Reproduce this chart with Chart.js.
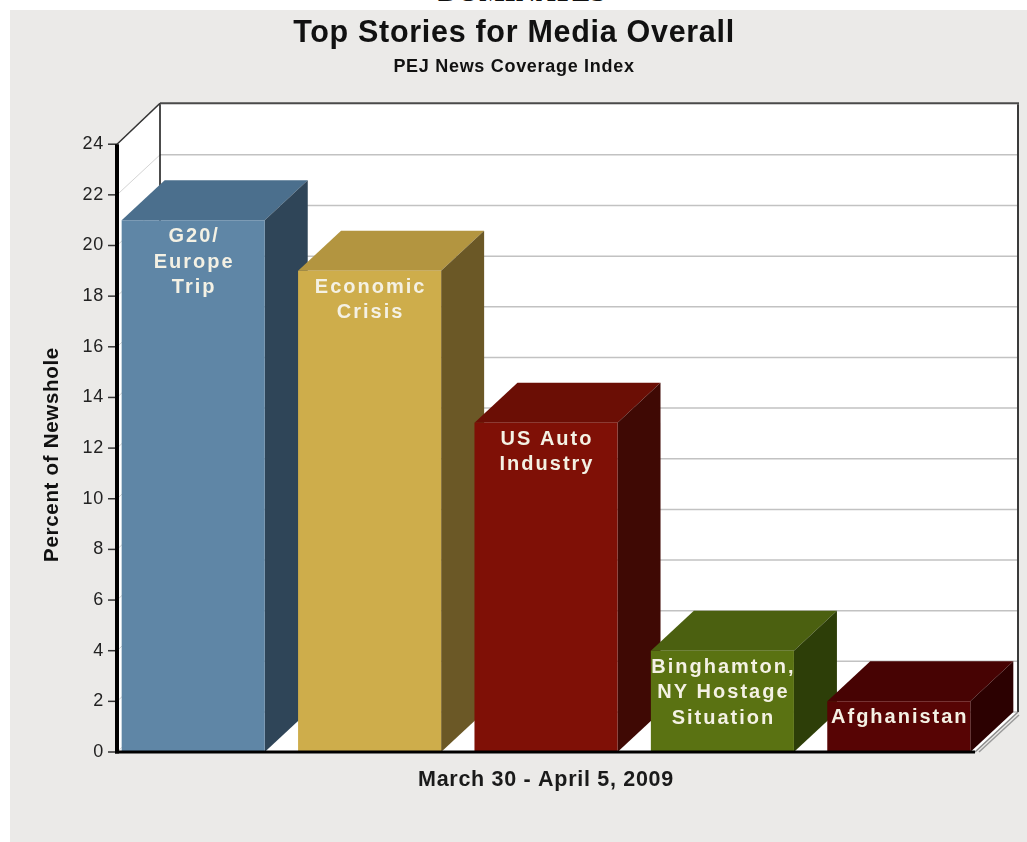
<!DOCTYPE html>
<html>
<head>
<meta charset="utf-8">
<title>Top Stories for Media Overall</title>
<script src="https://cdn.jsdelivr.net/npm/chart.js@4.4.1/dist/chart.umd.min.js"></script>
<style>
  html, body { margin: 0; padding: 0; background: #fff; }
  body { width: 1027px; height: 842px; position: relative; overflow: hidden; }
  #kicker {
    position: absolute; left: 0; top: -21px; width: 1044px;
    text-align: center; color: #111;
    font: bold 27px "Liberation Serif", "Times New Roman", serif;
    line-height: 27px; letter-spacing: 0.4px;
  }
  #panel { position: absolute; left: 10px; top: 10px; width: 1017px; height: 832px; background: #ebeae8; }
</style>
</head>
<body>
<div id="kicker">DOMINATES</div>
<div id="panel"><canvas id="storiesChart"></canvas></div>
<script>
// story names (one entry per line of the in-bar label) and share of newshole
const stories = [
  ["G20/", "Europe", "Trip"],
  ["Economic", "Crisis"],
  ["US Auto", "Industry"],
  ["Binghamton,", "NY Hostage", "Situation"],
  ["Afghanistan"],
];
const newshole = [21, 19, 13, 4, 2];
const yMin = 0;
const yMax = 24;
const yStep = 2;

const frontColors = ["#5f86a6", "#cead4b", "#7f1006", "#5a7212", "#570404"];
const topColors = ["#4b6f8d", "#b39540", "#6b0e05", "#4b6010", "#470303"];
const sideColors = ["#2f4558", "#6b5826", "#3f0904", "#2d3e08", "#2c0101"];

const FONT = "'Liberation Sans', Arial, sans-serif";
const DX = 43; // depth offset, x
const DY = 40; // depth offset, y
const INSET = 12; // front plane sits this far inside the chart area

function poly(ctx, pts, fill) {
  ctx.beginPath();
  ctx.moveTo(pts[0][0], pts[0][1]);
  for (let i = 1; i < pts.length; i++) ctx.lineTo(pts[i][0], pts[i][1]);
  ctx.closePath();
  ctx.fillStyle = fill;
  ctx.fill();
}

function line(ctx, x1, y1, x2, y2, color, w) {
  ctx.beginPath();
  ctx.moveTo(x1, y1);
  ctx.lineTo(x2, y2);
  ctx.strokeStyle = color;
  ctx.lineWidth = w;
  ctx.stroke();
}

// walls, floor, grid and the top/side faces of every bar
const box3d = {
  id: "box3d",
  beforeDraw(chart) {
    chart.ctx.letterSpacing = "0.7px";
  },
  beforeDatasetsDraw(chart) {
    const { ctx, chartArea, scales } = chart;
    const y = scales.y;
    const x0 = chartArea.left + INSET;
    const x1 = chartArea.right - INSET;
    const top = chartArea.top;
    const base = chartArea.bottom;

    ctx.save();
    ctx.letterSpacing = "0px";
    // back wall, left wall, floor
    ctx.fillStyle = "#fff";
    ctx.fillRect(x0 + DX, top - DY, x1 - x0, base - top);
    poly(ctx, [[x0, top], [x0 + DX, top - DY], [x0 + DX, base - DY], [x0, base]], "#fff");
    poly(ctx, [[x0, base], [x1, base], [x1 + DX, base - DY], [x0 + DX, base - DY]], "#fff");

    // grid lines on the back wall plus their diagonals on the side wall
    y.ticks.forEach(t => {
      const py = y.getPixelForValue(t.value);
      if (t.value < yMax) line(ctx, x0 + DX, py - DY, x1 + DX, py - DY, "#c2c2c2", 1.5);
      line(ctx, x0, py, x0 + DX, py - DY, "#d4d4d4", 1);
    });

    // frame edges
    line(ctx, x0 + DX, top - DY - 1, x1 + DX + 1, top - DY - 1, "#4a4a4a", 2);
    line(ctx, x1 + DX, top - DY, x1 + DX, base - DY, "#3a3a3a", 2);
    line(ctx, x0, top, x0 + DX, top - DY - 1, "#333", 1.5);
    line(ctx, x0 + DX, top - DY, x0 + DX, base - DY, "#111", 1.5);
    line(ctx, x1, base, x1 + DX, base - DY, "#8a8a8a", 1.5);
    line(ctx, x1 + 4, base, x1 + DX + 1, base - DY + 3, "#9a9a9a", 1.5);

    // top and side faces, left to right so the next front face covers them
    const meta = chart.getDatasetMeta(0);
    meta.data.forEach((bar, i) => {
      const p = bar.getProps(["x", "y", "base", "width"], true);
      const l = p.x - p.width / 2;
      const r = p.x + p.width / 2;
      poly(ctx, [[l, p.y], [r, p.y], [r + DX, p.y - DY], [l + DX, p.y - DY]], topColors[i]);
      poly(ctx, [[r, p.y], [r + DX, p.y - DY], [r + DX, p.base - DY], [r, p.base]], sideColors[i]);
    });
    ctx.restore();
  },
  afterDatasetsDraw(chart) {
    const { ctx, chartArea, scales } = chart;
    const y = scales.y;
    const x0 = chartArea.left + INSET;
    const x1 = chartArea.right - INSET;
    const base = chartArea.bottom;

    ctx.save();
    // story names inside the bars
    const ls = 2;
    ctx.letterSpacing = ls + "px";
    ctx.font = "bold 20px " + FONT;
    ctx.textAlign = "center";
    ctx.textBaseline = "alphabetic";
    ctx.fillStyle = "#f4f1e4";
    const meta = chart.getDatasetMeta(0);
    meta.data.forEach((bar, i) => {
      const p = bar.getProps(["x", "y"], true);
      stories[i].forEach((txt, k) => {
        ctx.fillText(txt, p.x + ls / 2, p.y + 22 + k * 25.5);
      });
    });

    // axes in front of everything
    ctx.letterSpacing = "0px";
    y.ticks.forEach(t => {
      const py = y.getPixelForValue(t.value);
      line(ctx, x0 - 9, py, x0, py, "#333", 1.5);
    });
    line(ctx, x0, chartArea.top, x0, base + 1.5, "#000", 4);
    line(ctx, x0 - 2, base, x1, base, "#000", 3);
    ctx.restore();
  },
};

new Chart(document.getElementById("storiesChart"), {
  type: "bar",
  data: {
    labels: stories,
    datasets: [{
      data: newshole,
      backgroundColor: frontColors,
      borderWidth: 0,
      categoryPercentage: 1,
      barPercentage: 0.811,
    }],
  },
  options: {
    responsive: true,
    maintainAspectRatio: false,
    animation: false,
    layout: { padding: { top: 0, right: 9, bottom: 0, left: 0 } },
    plugins: {
      legend: { display: false },
      tooltip: { enabled: false },
      title: {
        display: true,
        text: "Top Stories for Media Overall",
        color: "#111",
        font: { family: FONT, size: 30.5, weight: "bold" },
        padding: { top: 5, bottom: 0 },
      },
      subtitle: {
        display: true,
        text: "PEJ News Coverage Index",
        color: "#111",
        font: { family: FONT, size: 18, weight: "bold" },
        padding: { top: 4.5, bottom: 66.5 },
      },
    },
    scales: {
      x: {
        grid: { display: false },
        border: { display: false },
        ticks: { display: false },
        title: {
          display: true,
          text: "March 30 - April 5, 2009",
          color: "#1a1a1a",
          font: { family: FONT, size: 21.5, weight: "bold" },
          padding: { top: 0, bottom: 48.7 },
        },
        afterFit(scale) { scale.height = 90; },
      },
      y: {
        min: yMin,
        max: yMax,
        grid: { display: false, drawTicks: false },
        border: { display: false },
        ticks: {
          stepSize: yStep,
          padding: 1,
          color: "#222",
          font: { family: FONT, size: 18 },
        },
        title: {
          display: true,
          // trailing spaces nudge the rotated title a little lower
          text: "Percent of Newshole  ",
          color: "#111",
          font: { family: FONT, size: 20.5, weight: "bold" },
          padding: { top: 30, bottom: 0 },
        },
        afterFit(scale) { scale.width = 95; },
      },
      // empty right-hand strip that leaves room for the depth of the plot
      gutter: {
        type: "linear",
        position: "right",
        grid: { display: false },
        border: { display: false },
        ticks: { display: false },
        afterFit(scale) { scale.width = 31; },
      },
    },
  },
  plugins: [box3d],
});
</script>
</body>
</html>
